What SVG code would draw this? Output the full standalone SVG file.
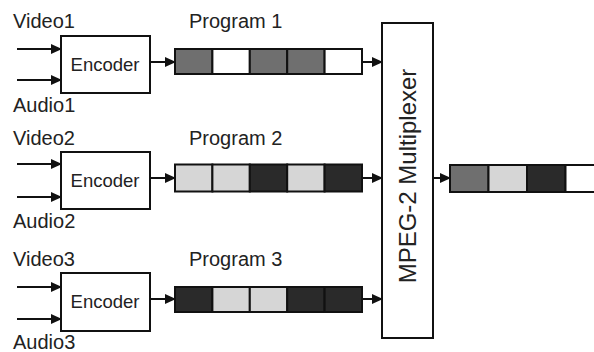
<svg xmlns="http://www.w3.org/2000/svg" width="594" height="352" viewBox="0 0 594 352">
  <defs>
    <marker id="arrow" markerWidth="11" markerHeight="10" refX="10" refY="5" orient="auto" markerUnits="userSpaceOnUse">
      <path d="M0,0 L11,5 L0,10 Z" fill="#111"/>
    </marker>
    <style>
      text { font-family: "Liberation Sans", Arial, sans-serif; fill: #222; }
      .lbl { font-size: 20px; }
      .enc-text { font-size: 18.5px; }
      .box { fill: #fff; stroke: #111; stroke-width: 2; }
      .cell { stroke: #111; stroke-width: 2; }
      .m { fill: #6f6f6f; }
      .l { fill: #d6d6d6; }
      .d { fill: #2a2a2a; }
      .w { fill: #fff; }
      .conn line { stroke: #111; stroke-width: 2; marker-end: url(#arrow); }
    </style>
  </defs>
  <rect width="594" height="352" fill="#fff"/>

  <!-- connectors -->
  <g id="connectors" class="conn">
    <line x1="17" y1="49" x2="61" y2="49"/>
    <line x1="17" y1="80" x2="61" y2="80"/>
    <line x1="150" y1="62" x2="175" y2="62"/>
    <line x1="362" y1="62" x2="382" y2="62"/>

    <line x1="17" y1="164" x2="61" y2="164"/>
    <line x1="17" y1="197" x2="61" y2="197"/>
    <line x1="150" y1="178" x2="175" y2="178"/>
    <line x1="362" y1="178" x2="382" y2="178"/>

    <line x1="17" y1="287" x2="61" y2="287"/>
    <line x1="17" y1="319" x2="61" y2="319"/>
    <line x1="150" y1="299" x2="175" y2="299"/>
    <line x1="362" y1="299" x2="382" y2="299"/>

    <line x1="433" y1="178" x2="450" y2="178"/>
  </g>

  <!-- program 1 -->
  <g id="encoder1">
    <text class="lbl" x="13" y="28">Video1</text>
    <text class="lbl" x="13" y="112">Audio1</text>
    <rect class="box" x="61" y="36" width="89" height="57"/>
    <text class="enc-text" x="105" y="71" text-anchor="middle">Encoder</text>
  </g>
  <g id="program1">
    <text class="lbl" x="189" y="28">Program 1</text>
    <rect class="cell m" x="175" y="49" width="37.4" height="25"/>
    <rect class="cell w" x="212.4" y="49" width="37.4" height="25"/>
    <rect class="cell m" x="249.8" y="49" width="37.4" height="25"/>
    <rect class="cell m" x="287.2" y="49" width="37.4" height="25"/>
    <rect class="cell w" x="324.6" y="49" width="37.4" height="25"/>
  </g>

  <!-- program 2 -->
  <g id="encoder2">
    <text class="lbl" x="13" y="145">Video2</text>
    <text class="lbl" x="13" y="228">Audio2</text>
    <rect class="box" x="61" y="152" width="89" height="57"/>
    <text class="enc-text" x="105" y="187" text-anchor="middle">Encoder</text>
  </g>
  <g id="program2">
    <text class="lbl" x="189" y="145">Program 2</text>
    <rect class="cell l" x="175" y="164.5" width="37.4" height="27"/>
    <rect class="cell l" x="212.4" y="164.5" width="37.4" height="27"/>
    <rect class="cell d" x="249.8" y="164.5" width="37.4" height="27"/>
    <rect class="cell l" x="287.2" y="164.5" width="37.4" height="27"/>
    <rect class="cell d" x="324.6" y="164.5" width="37.4" height="27"/>
  </g>

  <!-- program 3 -->
  <g id="encoder3">
    <text class="lbl" x="13" y="266">Video3</text>
    <text class="lbl" x="13" y="349">Audio3</text>
    <rect class="box" x="61" y="273" width="89" height="58"/>
    <text class="enc-text" x="105" y="308" text-anchor="middle">Encoder</text>
  </g>
  <g id="program3">
    <text class="lbl" x="189" y="266">Program 3</text>
    <rect class="cell d" x="175" y="287" width="37.4" height="25"/>
    <rect class="cell l" x="212.4" y="287" width="37.4" height="25"/>
    <rect class="cell l" x="249.8" y="287" width="37.4" height="25"/>
    <rect class="cell d" x="287.2" y="287" width="37.4" height="25"/>
    <rect class="cell d" x="324.6" y="287" width="37.4" height="25"/>
  </g>

  <!-- multiplexer -->
  <g id="multiplexer">
    <rect class="box" x="382" y="23" width="51" height="315"/>
    <text x="0" y="0" font-size="24" text-anchor="middle" transform="translate(416,176) rotate(-90)">MPEG-2 Multiplexer</text>
  </g>

  <!-- multiplexed output stream -->
  <g id="output">
    <rect class="cell m" x="450" y="165" width="38.5" height="27"/>
    <rect class="cell l" x="488.5" y="165" width="38.5" height="27"/>
    <rect class="cell d" x="527" y="165" width="38.5" height="27"/>
    <rect class="cell w" x="565.5" y="165" width="40" height="27"/>
  </g>
</svg>
